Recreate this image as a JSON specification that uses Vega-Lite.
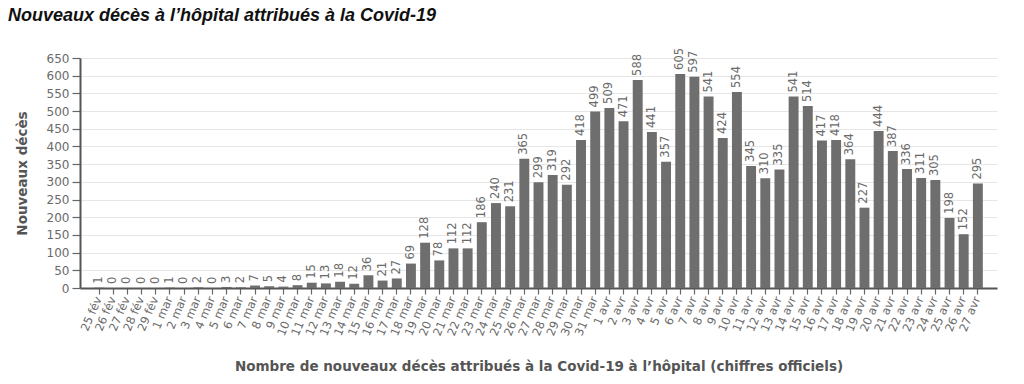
{
  "$schema": "https://vega.github.io/schema/vega-lite/v6.json",
  "width": 917,
  "height": 230,
  "autosize": "none",
  "padding": {"left": 80, "top": 58, "right": 27, "bottom": 96},
  "background": "white",
  "title": {
    "text": "Nouveaux décès à l’hôpital attribués à la Covid-19",
    "anchor": "start",
    "frame": "group",
    "font": "Liberation Sans",
    "fontSize": 18,
    "fontStyle": "italic",
    "fontWeight": "bold",
    "color": "#111111",
    "dx": -72,
    "dy": -19
  },
  "data": {
    "values": [
      {"jour": "25 fév", "deces": 1}, {"jour": "26 fév", "deces": 0}, {"jour": "27 fév", "deces": 0},
      {"jour": "28 fév", "deces": 0}, {"jour": "29 fév", "deces": 0}, {"jour": "1 mar", "deces": 1},
      {"jour": "2 mar", "deces": 0}, {"jour": "3 mar", "deces": 2}, {"jour": "4 mar", "deces": 0},
      {"jour": "5 mar", "deces": 3}, {"jour": "6 mar", "deces": 2}, {"jour": "7 mar", "deces": 7},
      {"jour": "8 mar", "deces": 5}, {"jour": "9 mar", "deces": 4}, {"jour": "10 mar", "deces": 8},
      {"jour": "11 mar", "deces": 15}, {"jour": "12 mar", "deces": 13}, {"jour": "13 mar", "deces": 18},
      {"jour": "14 mar", "deces": 12}, {"jour": "15 mar", "deces": 36}, {"jour": "16 mar", "deces": 21},
      {"jour": "17 mar", "deces": 27}, {"jour": "18 mar", "deces": 69}, {"jour": "19 mar", "deces": 128},
      {"jour": "20 mar", "deces": 78}, {"jour": "21 mar", "deces": 112}, {"jour": "22 mar", "deces": 112},
      {"jour": "23 mar", "deces": 186}, {"jour": "24 mar", "deces": 240}, {"jour": "25 mar", "deces": 231},
      {"jour": "26 mar", "deces": 365}, {"jour": "27 mar", "deces": 299}, {"jour": "28 mar", "deces": 319},
      {"jour": "29 mar", "deces": 292}, {"jour": "30 mar", "deces": 418}, {"jour": "31 mar", "deces": 499},
      {"jour": "1 avr", "deces": 509}, {"jour": "2 avr", "deces": 471}, {"jour": "3 avr", "deces": 588},
      {"jour": "4 avr", "deces": 441}, {"jour": "5 avr", "deces": 357}, {"jour": "6 avr", "deces": 605},
      {"jour": "7 avr", "deces": 597}, {"jour": "8 avr", "deces": 541}, {"jour": "9 avr", "deces": 424},
      {"jour": "10 avr", "deces": 554}, {"jour": "11 avr", "deces": 345}, {"jour": "12 avr", "deces": 310},
      {"jour": "13 avr", "deces": 335}, {"jour": "14 avr", "deces": 541}, {"jour": "15 avr", "deces": 514},
      {"jour": "16 avr", "deces": 417}, {"jour": "17 avr", "deces": 418}, {"jour": "18 avr", "deces": 364},
      {"jour": "19 avr", "deces": 227}, {"jour": "20 avr", "deces": 444}, {"jour": "21 avr", "deces": 387},
      {"jour": "22 avr", "deces": 336}, {"jour": "23 avr", "deces": 311}, {"jour": "24 avr", "deces": 305},
      {"jour": "25 avr", "deces": 198}, {"jour": "26 avr", "deces": 152}, {"jour": "27 avr", "deces": 295}
    ]
  },
  "config": {
    "view": {"stroke": null},
    "font": "DejaVu Sans",
    "axis": {
      "labelFont": "DejaVu Sans",
      "titleFont": "DejaVu Sans",
      "labelColor": "#6a6a6a",
      "titleColor": "#555555",
      "domainColor": "#555555",
      "domainWidth": 2,
      "tickColor": "#666666",
      "tickWidth": 1.2
    }
  },
  "encoding": {
    "x": {
      "field": "jour",
      "type": "nominal",
      "sort": null,
      "scale": {"paddingInner": 0.3, "paddingOuter": 1.25},
      "axis": {
        "title": "Nombre de nouveaux décès attribués à la Covid-19 à l’hôpital (chiffres officiels)",
        "titleFontSize": 13.5,
        "titleFontWeight": "bold",
        "titlePadding": 22,
        "labelAngle": -67,
        "labelFontSize": 11.5,
        "labelPadding": 3,
        "labelOverlap": false,
        "tickSize": 6
      }
    },
    "y": {
      "field": "deces",
      "type": "quantitative",
      "scale": {"domain": [0, 650], "nice": false},
      "axis": {
        "title": "Nouveaux décès",
        "titleFontSize": 13.5,
        "titleFontWeight": "bold",
        "titlePadding": 17,
        "values": [0, 50, 100, 150, 200, 250, 300, 350, 400, 450, 500, 550, 600, 650],
        "labelFontSize": 12,
        "labelPadding": 3,
        "tickSize": 8,
        "grid": true,
        "gridColor": "#e6e6e6",
        "gridWidth": 1.2
      }
    }
  },
  "layer": [
    {"mark": {"type": "bar", "color": "#6e6e6e"}},
    {
      "mark": {
        "type": "text",
        "angle": -90,
        "align": "left",
        "baseline": "middle",
        "dx": 4,
        "fontSize": 11.5,
        "color": "#6a6a6a"
      },
      "encoding": {"text": {"field": "deces", "type": "quantitative"}}
    }
  ]
}
